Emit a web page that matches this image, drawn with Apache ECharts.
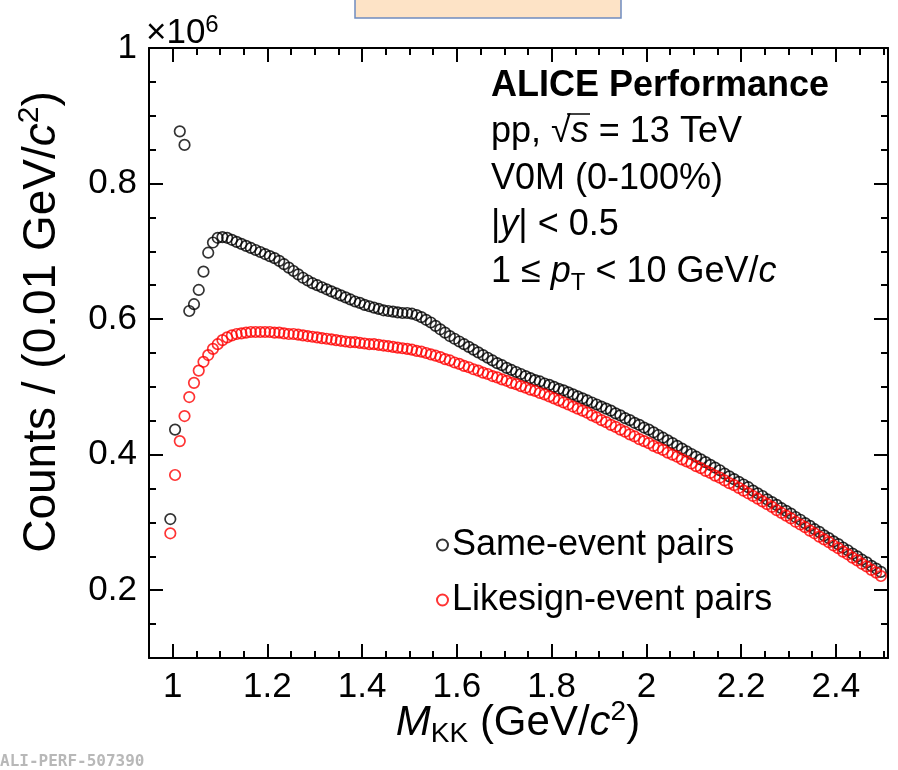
<!DOCTYPE html>
<html>
<head>
<meta charset="utf-8">
<script src="https://cdn.jsdelivr.net/npm/echarts@6/dist/echarts.min.js"></script>
<style>
html, body { margin: 0; padding: 0; background: #fff; }
#main { width: 898px; height: 770px; }
</style>
</head>
<body>
<div id="main"></div>
<script>
// invariant mass bins, 0.01 GeV/c^2 wide, first bin centre 0.995
var binStart = 0.995;
var binWidth = 0.01;

// counts per bin, in units of 10^6
var sameEvent = [
    0.305, 0.437, 0.877, 0.857, 0.612, 0.622, 0.643, 0.670, 0.698, 0.713,
    0.720, 0.721, 0.720, 0.717, 0.714, 0.711, 0.708, 0.705, 0.702, 0.699,
    0.696, 0.693, 0.690, 0.686, 0.681, 0.676, 0.671, 0.666, 0.661, 0.657,
    0.653, 0.650, 0.647, 0.644, 0.641, 0.638, 0.635, 0.632, 0.629, 0.626,
    0.624, 0.621, 0.619, 0.617, 0.615, 0.613, 0.612, 0.611, 0.610, 0.609,
    0.609, 0.608, 0.606, 0.603, 0.599, 0.595, 0.590, 0.585, 0.580, 0.575,
    0.571, 0.567, 0.563, 0.559, 0.555, 0.551, 0.547, 0.543, 0.539, 0.535,
    0.532, 0.528, 0.525, 0.522, 0.519, 0.516, 0.513, 0.510, 0.508, 0.505,
    0.503, 0.500, 0.497, 0.495, 0.492, 0.489, 0.486, 0.483, 0.480, 0.477,
    0.474, 0.471, 0.468, 0.465, 0.461, 0.458, 0.454, 0.451, 0.447, 0.444,
    0.440, 0.437, 0.433, 0.429, 0.425, 0.421, 0.417, 0.413, 0.409, 0.405,
    0.401, 0.397, 0.393, 0.389, 0.385, 0.381, 0.377, 0.372, 0.368, 0.364,
    0.360, 0.356, 0.352, 0.347, 0.343, 0.339, 0.334, 0.330, 0.326, 0.321,
    0.317, 0.313, 0.308, 0.304, 0.299, 0.295, 0.290, 0.286, 0.281, 0.277,
    0.272, 0.268, 0.263, 0.259, 0.254, 0.250, 0.245, 0.241, 0.236, 0.232,
    0.227
];
var likeSign = [
    0.284, 0.370, 0.420, 0.457, 0.485, 0.506, 0.524, 0.537, 0.547, 0.556,
    0.563, 0.569, 0.573, 0.576, 0.578, 0.579, 0.580, 0.581, 0.581, 0.581,
    0.581, 0.581, 0.580, 0.580, 0.579, 0.578, 0.578, 0.577, 0.576, 0.575,
    0.574, 0.573, 0.572, 0.571, 0.570, 0.569, 0.568, 0.567, 0.566, 0.566,
    0.565, 0.564, 0.563, 0.563, 0.562, 0.561, 0.560, 0.559, 0.558, 0.557,
    0.556, 0.555, 0.553, 0.552, 0.550, 0.548, 0.546, 0.544, 0.541, 0.539,
    0.536, 0.534, 0.531, 0.529, 0.526, 0.524, 0.521, 0.519, 0.516, 0.514,
    0.511, 0.509, 0.506, 0.504, 0.501, 0.499, 0.496, 0.494, 0.491, 0.489,
    0.486, 0.483, 0.480, 0.477, 0.474, 0.471, 0.468, 0.465, 0.462, 0.458,
    0.455, 0.451, 0.448, 0.444, 0.441, 0.437, 0.434, 0.430, 0.427, 0.423,
    0.420, 0.417, 0.413, 0.410, 0.407, 0.403, 0.400, 0.397, 0.393, 0.390,
    0.387, 0.383, 0.380, 0.376, 0.373, 0.369, 0.366, 0.362, 0.358, 0.355,
    0.351, 0.347, 0.343, 0.339, 0.335, 0.331, 0.327, 0.323, 0.318, 0.314,
    0.310, 0.306, 0.301, 0.297, 0.293, 0.288, 0.284, 0.279, 0.275, 0.271,
    0.266, 0.262, 0.257, 0.253, 0.248, 0.244, 0.239, 0.235, 0.230, 0.226,
    0.221
];

var xTicks = [1, 1.2, 1.4, 1.6, 1.8, 2, 2.2, 2.4];
var yTicks = [0.2, 0.4, 0.6, 0.8, 1];
var seriesNames = ['Same-event pairs', 'Likesign-event pairs'];

var FONT = '"Liberation Sans", Arial, Helvetica, sans-serif';

function toPoints(arr) {
    var pts = [];
    for (var i = 0; i < arr.length; i++) {
        pts.push([+(binStart + i * binWidth).toFixed(3), arr[i]]);
    }
    return pts;
}

var myChart = echarts.init(document.getElementById('main'), null, { renderer: 'canvas' });

var gridBox = { left: 149, top: 48, width: 739, height: 610 };
var axisLine = { show: true, onZero: false, lineStyle: { color: '#000', width: 2 } };

function majorX(pos, labels) {
    return {
        type: 'value', gridIndex: 0, position: pos, min: 0.95, max: 2.51,
        axisLine: axisLine,
        axisTick: { show: true, inside: true, length: 14, customValues: xTicks, lineStyle: { color: '#000', width: 2 } },
        axisLabel: { show: labels, customValues: xTicks, margin: 12, color: '#000', fontSize: 35, fontFamily: FONT },
        splitLine: { show: false }
    };
}
function minorX(pos) {
    return {
        type: 'value', gridIndex: 1, position: pos, min: 0.95, max: 2.51, interval: 0.05,
        axisLine: { show: false },
        axisTick: { show: true, inside: true, length: 7, lineStyle: { color: '#000', width: 2 } },
        axisLabel: { show: false },
        splitLine: { show: false }
    };
}
function majorY(pos, labels) {
    return {
        type: 'value', gridIndex: 0, position: pos, min: 0.1, max: 1,
        axisLine: axisLine,
        axisTick: { show: true, inside: true, length: 14, customValues: yTicks, lineStyle: { color: '#000', width: 2 } },
        axisLabel: { show: labels, customValues: yTicks, margin: 12, color: '#000', fontSize: 35, fontFamily: FONT },
        splitLine: { show: false }
    };
}
function minorY(pos) {
    return {
        type: 'value', gridIndex: 1, position: pos, min: 0.1, max: 1, interval: 0.05,
        axisLine: { show: false },
        axisTick: { show: true, inside: true, length: 7, lineStyle: { color: '#000', width: 2 } },
        axisLabel: { show: false },
        splitLine: { show: false }
    };
}

var txt = { fontSize: 36, fontFamily: FONT };
var txtI = { fontSize: 36, fontFamily: FONT, fontStyle: 'italic' };

var option = {
    backgroundColor: '#fff',
    animation: false,
    grid: [
        Object.assign({}, gridBox),
        Object.assign({}, gridBox)
    ],
    xAxis: [majorX('bottom', true), majorX('top', false), minorX('bottom'), minorX('top')],
    yAxis: [majorY('left', true), majorY('right', false), minorY('left'), minorY('right')],
    legend: {
        orient: 'vertical',
        left: 436, top: 527,
        itemWidth: 11, itemHeight: 11, itemGap: 19,
        padding: 0,
        textStyle: { fontSize: 36, fontFamily: FONT, color: '#000', padding: [0, 0, 0, -1] },
        data: seriesNames
    },
    series: [
        {
            name: seriesNames[0], type: 'scatter', xAxisIndex: 0, yAxisIndex: 0,
            symbol: 'circle', symbolSize: 10.5,
            itemStyle: { color: 'rgba(0,0,0,0)', borderColor: '#000', borderWidth: 1.7 },
            data: toPoints(sameEvent)
        },
        {
            name: seriesNames[1], type: 'scatter', xAxisIndex: 0, yAxisIndex: 0,
            symbol: 'circle', symbolSize: 10.5,
            itemStyle: { color: 'rgba(0,0,0,0)', borderColor: '#f00', borderWidth: 1.7 },
            data: toPoints(likeSign)
        }
    ],
    graphic: [
        // box at the very top of the picture
        { type: 'rect', shape: { x: 355, y: -3, width: 266, height: 21 },
          style: { fill: '#fde3c6', stroke: '#6f8cc0', lineWidth: 1.5 } },
        // multiplier of the y axis
        { type: 'text', x: 146, y: 13,
          style: { text: '{a|×10}{s|6}', fill: '#000',
                   rich: { a: { fontSize: 35, fontFamily: FONT, lineHeight: 40 },
                           s: { fontSize: 24, fontFamily: FONT, verticalAlign: 'top', lineHeight: 22 } } } },
        // y axis title
        { type: 'text', x: 42, y: 322, rotation: Math.PI / 2,
          style: { text: '{a|Counts / (0.01 GeV/}{i|c}{s|2}{a|)}', fill: '#000', align: 'center', verticalAlign: 'middle',
                   rich: { a: { fontSize: 46, fontFamily: FONT, lineHeight: 54 },
                           i: { fontSize: 46, fontFamily: FONT, fontStyle: 'italic', lineHeight: 54 },
                           s: { fontSize: 30, fontFamily: FONT, verticalAlign: 'top', lineHeight: 28 } } } },
        // x axis title
        { type: 'text', x: 518, y: 723,
          style: { text: '{i|M}{b|KK}{a| (GeV/}{i|c}{s|2}{a|)}', fill: '#000', align: 'center', verticalAlign: 'middle',
                   rich: { a: { fontSize: 42, fontFamily: FONT, lineHeight: 50 },
                           i: { fontSize: 42, fontFamily: FONT, fontStyle: 'italic', lineHeight: 50 },
                           b: { fontSize: 28, fontFamily: FONT, verticalAlign: 'bottom', lineHeight: 25 },
                           s: { fontSize: 28, fontFamily: FONT, verticalAlign: 'top', lineHeight: 25 } } } },
        // ALICE label block
        { type: 'text', x: 491, y: 86,
          style: { text: 'ALICE Performance', fill: '#000', verticalAlign: 'middle',
                   font: 'bold 36px ' + FONT } },
        { type: 'text', x: 491, y: 132,
          style: { text: '{a|pp, √}{i|s}{a| = 13 TeV}', fill: '#000', verticalAlign: 'middle',
                   rich: { a: txt, i: txtI } } },
        { type: 'line', shape: { x1: 567, y1: 114, x2: 590, y2: 114 },
          style: { stroke: '#000', lineWidth: 1.5 } },
        { type: 'text', x: 491, y: 179,
          style: { text: 'V0M (0-100%)', fill: '#000', verticalAlign: 'middle', font: '36px ' + FONT } },
        { type: 'text', x: 491, y: 225,
          style: { text: '{a||}{i|y}{a|| < 0.5}', fill: '#000', verticalAlign: 'middle',
                   rich: { a: txt, i: txtI } } },
        { type: 'text', x: 491, y: 272,
          style: { text: '{a|1 ≤ }{i|p}{b|T}{a| < 10 GeV/}{i|c}', fill: '#000', verticalAlign: 'middle',
                   rich: { a: { fontSize: 36, fontFamily: FONT, lineHeight: 46 },
                           i: { fontSize: 36, fontFamily: FONT, fontStyle: 'italic', lineHeight: 46 },
                           b: { fontSize: 24, fontFamily: FONT, verticalAlign: 'bottom', lineHeight: 23 } } } },
        // figure id
        { type: 'text', x: 0, y: 762,
          style: { text: 'ALI-PERF-507390', fill: '#b8b8b8', verticalAlign: 'middle',
                   font: 'bold 16px "DejaVu Sans Mono", "Liberation Mono", monospace' } }
    ]
};

myChart.setOption(option);
</script>
</body>
</html>
